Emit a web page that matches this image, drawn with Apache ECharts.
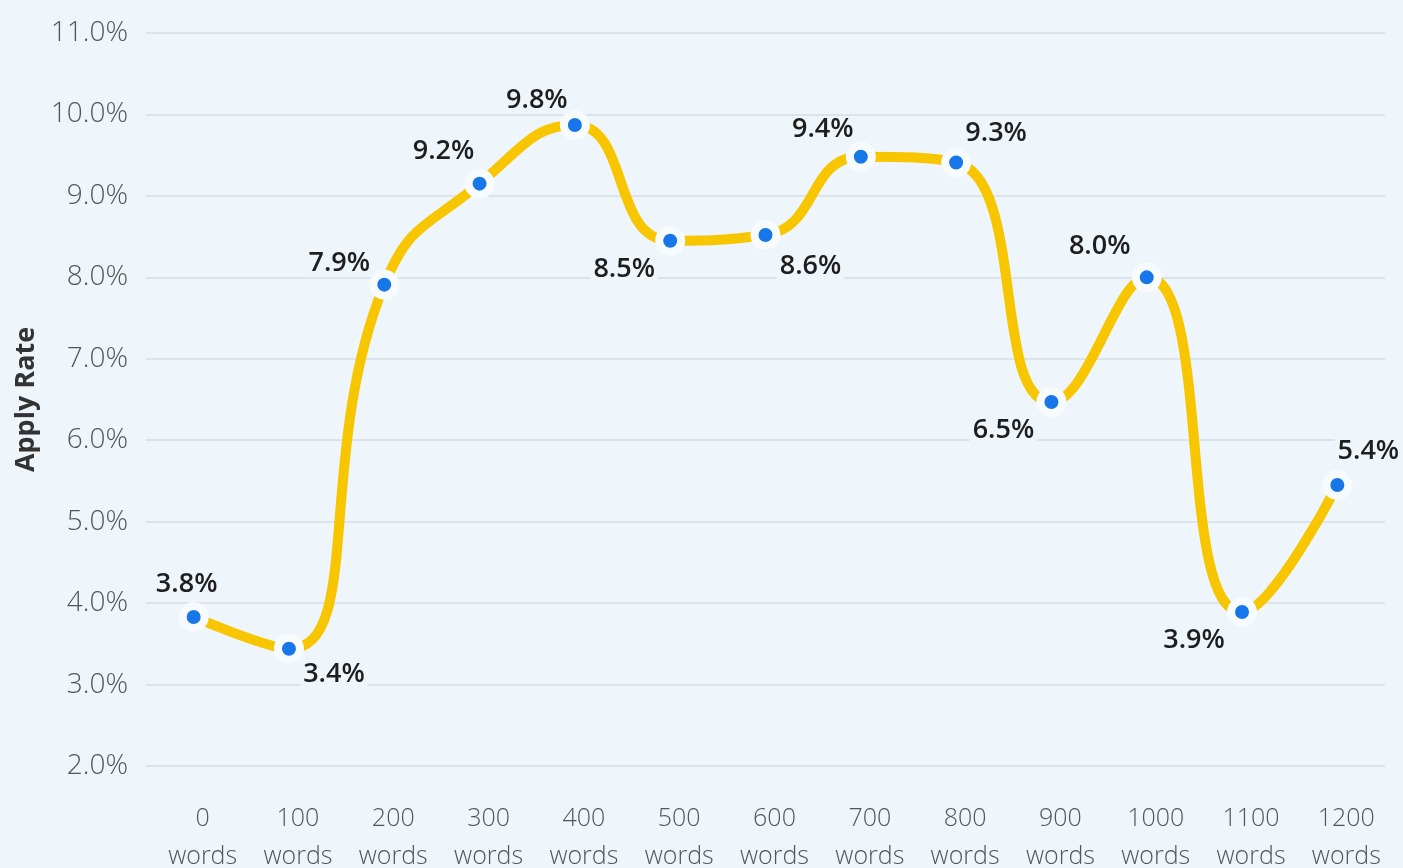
<!DOCTYPE html>
<html>
<head>
<meta charset="utf-8">
<script src="https://cdn.jsdelivr.net/npm/echarts@6/dist/echarts.min.js"></script>
<style>
  html, body { margin: 0; padding: 0; background: #eef6fc; }
  #myChart { width: 1403px; height: 868px; }
</style>
</head>
<body>
<div id="myChart"></div>
<script>
// 横轴分类
let categories = ['0\nwords', '100\nwords', '200\nwords', '300\nwords', '400\nwords', '500\nwords', '600\nwords',
  '700\nwords', '800\nwords', '900\nwords', '1000\nwords', '1100\nwords', '1200\nwords'];
// 申请率 (%)
let applyRate = [3.83, 3.44, 7.91, 9.15, 9.87, 8.45, 8.52, 9.48, 9.41, 6.47, 8.0, 3.89, 5.45];
// 数据标签文字
let rateLabels = ['3.8%', '3.4%', '7.9%', '9.2%', '9.8%', '8.5%', '8.6%', '9.4%', '9.3%', '6.5%', '8.0%', '3.9%', '5.4%'];
// 标签相对圆点的偏移
let labelOffsets = [[-7, -33], [45, 26], [-45, -21], [-36, -32], [-38, -25], [-46, 29], [45, 31],
  [-38, -27], [40, -29], [-48, 28], [-47, -31], [-48, 28], [31, -34]];

let bg = '#eef6fc';
let chart = echarts.init(document.getElementById('myChart'));

let seriesData = applyRate.map((v, i) => ({
  value: v,
  label: {
    show: true,
    position: 'inside',
    offset: labelOffsets[i],
    formatter: rateLabels[i]
  }
}));

let option = {
  backgroundColor: bg,
  animation: false,
  grid: { left: 146, right: 18, top: 33, bottom: 102, outerBoundsMode: 'none' },
  xAxis: {
    type: 'category',
    data: categories,
    boundaryGap: true,
    axisLine: { show: false },
    axisTick: { show: false },
    axisLabel: {
      margin: 34,
      padding: [0, 0, 0, 18], // 文字比圆点略偏右
      color: '#555',
      fontFamily: 'Open Sans',
      fontWeight: 300,
      fontSize: 25,
      lineHeight: 38
    }
  },
  yAxis: {
    type: 'value',
    min: 2,
    max: 11,
    interval: 1,
    name: 'Apply Rate',
    nameLocation: 'middle',
    nameGap: 105,
    nameTextStyle: { color: '#333', fontFamily: 'Open Sans', fontWeight: 'bold', fontSize: 27 },
    axisLine: { show: false },
    axisTick: { show: false },
    splitLine: { lineStyle: { color: '#dce3ea', width: 2 } },
    axisLabel: {
      margin: 18,
      color: '#555',
      fontFamily: 'Open Sans',
      fontWeight: 300,
      fontSize: 28,
      formatter: v => v.toFixed(1) + '%'
    }
  },
  series: [{
    type: 'line',
    data: seriesData,
    smooth: 0.5,
    symbol: 'circle',
    symbolSize: 22,
    lineStyle: { color: '#f7c600', width: 10 },
    itemStyle: { color: '#1777e8', borderColor: '#f8fbfe', borderWidth: 8 },
    label: {
      color: '#1e1e1e',
      fontFamily: 'Open Sans',
      fontWeight: 600,
      fontSize: 27,
      backgroundColor: bg,
      padding: [0, 3]
    }
  }]
};

chart.setOption(option);
</script>
</body>
</html>
